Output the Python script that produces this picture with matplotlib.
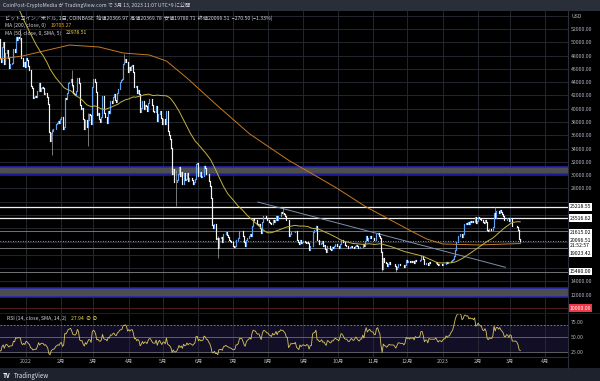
import numpy as np
import pandas as pd
import matplotlib
matplotlib.use("Agg")
from matplotlib import pyplot as plt
import matplotlib.dates as mdates
from matplotlib import transforms
from matplotlib.patches import Rectangle

plt.rcParams['font.family'] = ['Noto Sans CJK JP', 'DejaVu Sans']

# --- Daily closes (thousand USD), from 2021-10-20 ---
start_date = '2021-10-20'
closes_k = [
    # Oct 2021 (20-31)
    65.9, 62.2, 60.7, 61.3, 60.9, 63.0, 60.4, 58.5, 60.6, 62.2, 61.9, 61.3,
    # Nov 2021
    61.0, 63.2, 62.9, 61.4, 61.0, 61.5, 63.3, 67.6, 66.9, 64.9, 64.9, 64.2, 64.5, 65.5, 63.6,
    60.1, 60.4, 56.9, 58.1, 59.7, 58.7, 56.3, 57.6, 57.2, 58.9, 53.6, 54.8, 57.3, 57.8, 57.0,
    # Dec 2021
    57.2, 56.5, 53.6, 49.4, 49.4, 50.6, 50.6, 50.5, 47.6, 47.1, 49.3, 50.1, 46.7, 48.4, 48.9, 47.6,
    46.2, 46.8, 46.7, 46.9, 49.0, 48.6, 50.8, 50.4, 50.8, 50.6, 50.6, 47.6, 46.5, 47.1, 46.3,
    # Jan 2022
    47.7, 47.3, 46.4, 45.8, 43.4, 43.1, 41.6, 41.8, 41.9, 41.8, 42.7, 43.9, 42.6, 43.1, 43.2, 43.1,
    42.2, 42.4, 41.7, 40.7, 36.5, 35.1, 36.3, 36.7, 36.9, 37.0, 37.7, 37.9, 38.2, 37.9, 38.5,
    # Feb 2022
    38.7, 36.9, 37.3, 41.6, 41.4, 42.4, 43.8, 44.0, 44.4, 43.6, 42.4, 42.2, 42.1, 42.6, 44.6, 43.9,
    40.5, 40.0, 40.1, 38.4, 37.0, 38.3, 37.3, 38.3, 39.2, 39.1, 37.7, 43.2,
    # Mar 2022
    44.4, 44.0, 42.5, 39.1, 39.4, 38.4, 38.0, 38.7, 41.9, 39.4, 38.8, 38.8, 37.8, 39.7, 39.3, 41.1,
    40.9, 41.8, 42.2, 41.3, 41.0, 42.4, 42.9, 44.0, 44.3, 44.5, 46.8, 47.1, 47.5, 47.1, 45.5,
    # Apr 2022
    46.3, 45.8, 46.4, 46.6, 45.5, 43.2, 43.4, 42.3, 42.8, 42.2, 39.5, 40.1, 41.1, 39.9, 40.5, 40.4,
    39.7, 40.8, 41.5, 41.4, 40.5, 39.7, 39.5, 39.5, 40.4, 38.1, 39.2, 39.7, 38.6, 37.7,
    # May 2022
    38.5, 38.5, 37.7, 39.7, 36.6, 36.0, 35.5, 34.1, 30.1, 31.0, 29.0, 29.0, 29.3, 30.1, 31.3, 29.9,
    30.4, 28.7, 30.3, 29.2, 29.4, 30.3, 29.1, 29.6, 29.5, 29.2, 28.6, 29.0, 29.4, 31.7, 31.8,
    # Jun 2022
    29.8, 30.4, 29.7, 29.9, 29.9, 31.4, 31.1, 30.2, 30.1, 29.1, 28.4, 26.6, 22.5, 22.1, 22.6, 20.4,
    20.5, 19.0, 20.6, 20.6, 20.7, 20.0, 21.1, 21.2, 21.5, 21.0, 20.7, 20.3, 20.1, 19.9,
    # Jul 2022
    19.3, 19.2, 19.3, 20.2, 20.2, 20.5, 21.6, 21.6, 21.6, 20.9, 19.9, 19.3, 20.2, 20.6, 20.8, 21.2,
    20.8, 22.4, 23.4, 23.2, 23.2, 22.7, 22.5, 22.6, 22.0, 21.3, 22.9, 23.8, 23.8, 23.6, 23.3,
    # Aug 2022
    23.3, 22.9, 22.8, 22.6, 23.3, 23.0, 23.2, 23.8, 23.2, 23.9, 23.9, 24.4, 24.3, 24.3, 24.1, 23.9,
    23.3, 23.2, 20.8, 21.1, 21.5, 21.4, 21.5, 21.4, 21.6, 20.3, 20.0, 19.6, 20.3, 19.8, 20.0,
    # Sep 2022
    20.1, 19.9, 19.8, 20.0, 19.8, 18.8, 19.3, 19.3, 21.4, 21.7, 21.8, 22.4, 20.2, 20.2, 19.7, 19.8,
    20.1, 19.4, 19.5, 18.9, 18.5, 19.4, 19.3, 18.9, 18.8, 19.2, 19.1, 19.4, 19.6, 19.4,
    # Oct 2022
    19.3, 19.1, 19.6, 20.3, 20.2, 19.9, 19.5, 19.4, 19.4, 19.1, 19.0, 19.2, 19.4, 19.2, 19.1, 19.3,
    19.5, 19.3, 19.1, 19.0, 19.2, 19.2, 19.6, 19.3, 20.1, 20.8, 20.3, 20.6, 20.8, 20.6, 20.5,
    # Nov 2022
    20.5, 20.2, 20.2, 21.1, 21.3, 20.9, 20.6, 18.5, 15.9, 17.6, 17.0, 16.8, 16.3, 16.6, 16.9, 16.7,
    16.7, 16.7, 16.7, 16.3, 15.8, 16.2, 16.6, 16.6, 16.5, 16.5, 16.5, 16.2, 16.4, 17.2,
    # Dec 2022
    17.0, 17.1, 16.9, 17.1, 17.0, 17.1, 16.8, 17.2, 17.1, 17.1, 17.1, 17.2, 17.8, 17.8, 17.4, 16.6,
    16.8, 16.8, 16.4, 16.9, 16.8, 16.8, 16.8, 16.8, 16.8, 16.9, 16.7, 16.5, 16.6, 16.6, 16.5,
    # Jan 2023
    16.6, 16.7, 16.7, 16.9, 16.8, 16.9, 16.9, 17.1, 17.2, 17.4, 17.9, 18.8, 19.9, 20.9, 20.9, 21.2,
    21.1, 20.7, 21.1, 22.7, 22.8, 22.7, 22.9, 22.6, 23.1, 23.0, 23.1, 23.0, 23.7, 22.8, 23.1,
    # Feb 2023
    23.7, 23.5, 23.4, 23.3, 22.9, 22.8, 23.2, 22.9, 21.8, 21.6, 21.9, 21.8, 21.8, 22.2, 24.3, 23.5,
    24.6, 24.6, 24.3, 24.8, 24.4, 24.2, 23.9, 23.2, 23.2, 23.6, 23.5, 23.1,
    # Mar 2023 (1-10)
    23.6, 23.5, 22.4, 22.4, 22.4, 22.4, 22.2, 21.7, 20.36697, 20.09651,
]

# notable wicks (thousand USD)
wick_dates = ['2021-12-27', '2022-01-24', '2022-02-10', '2022-02-24', '2022-03-28', '2022-05-12',
              '2022-06-18', '2022-08-14', '2022-11-09', '2022-11-21', '2023-02-16', '2023-03-10']
wick_low = [50.3, 33.0, 43.2, 34.4, 46.9, 25.4, 17.6, 24.2, 15.5, 15.48, 23.5, 19.78]
wick_high = [52.0, 37.0, 45.8, 39.4, 48.2, 30.8, 20.8, 25.2, 18.6, 16.3, 25.2, 20.37]

# MA200
ma200_dates = ['2021-12-09', '2021-12-29', '2022-02-08', '2022-03-06', '2022-03-27', '2022-04-19',
               '2022-05-04', '2022-05-22', '2022-06-17', '2022-07-16', '2022-08-20', '2022-09-06',
               '2022-09-30', '2022-10-26', '2022-11-18', '2022-12-06', '2022-12-18', '2023-01-01',
               '2023-02-02', '2023-03-10']
ma200_vals = [47480, 47940, 49590, 49290, 48390, 48090, 47180, 44620, 40560, 36190, 32130, 30470,
              28070, 25210, 23100, 21440, 20390, 19640, 19490, 19705.27]

# drawn levels
white_levels = [25218.55, 23516.62]
gray_levels = [21615.02, 19023.42, 15480.00]
band_top = [31300, 12940]
band_bot = [30170, 11730]
red_level = 10000.00
trend_dates = ['2022-07-23', '2023-02-25']
trend_vals = [25960, 16130]

month_ticks = ['2022-01-01', '2022-02-01', '2022-03-01', '2022-04-01', '2022-05-01', '2022-06-01',
               '2022-07-01', '2022-08-01', '2022-09-01', '2022-10-01', '2022-11-01', '2022-12-01',
               '2023-01-01', '2023-02-01', '2023-03-01', '2023-04-01']
month_labels = ['2022', '2月', '3月', '4月', '5月', '6月', '7月', '8月', '9月', '10月', '11月', '12月',
                '2023', '2月', '3月', '4月']

# --- series ---
close = np.array(closes_k) * 1000
dates = pd.date_range(start_date, periods=len(close), freq='D')
opens = np.r_[close[0], close[:-1]]
xd = mdates.date2num(dates)
ma50 = pd.Series(close).rolling(50).mean().values
delta = pd.Series(close).diff()
ag = delta.clip(lower=0).ewm(alpha=1 / 14, adjust=False).mean()
al = (-delta.clip(upper=0)).ewm(alpha=1 / 14, adjust=False).mean()
rsi = (100 - 100 / (1 + ag / al)).values

# --- figure ---
W, H = 600, 381
BG = '#000000'
GRID = '#2a2d36'
TXT = '#b2b5be'
FS = 3.7


def rect(x0, y0, x1, y1):
    return [x0 / W, 1 - y1 / H, (x1 - x0) / W, (y1 - y0) / H]


fig = plt.figure(figsize=(6, 3.81), dpi=100, facecolor=BG)
ax = fig.add_axes(rect(0, 11, 568, 313), facecolor=BG)
ax_rsi = fig.add_axes(rect(0, 313, 568, 357), facecolor=BG, sharex=ax)

xmin = mdates.date2num(pd.Timestamp('2021-12-09 05:00'))
xmax = mdates.date2num(pd.Timestamp('2023-04-20 19:00'))
ax.set_xlim(xmin, xmax)
ax.set_ylim(9249, 54710)
ax_rsi.set_ylim(16.7, 90)

mt = mdates.date2num(pd.to_datetime(month_ticks))
for a in (ax, ax_rsi):
    for s in a.spines.values():
        s.set_visible(False)
    a.set_xticks(mt)
    a.grid(True, axis='x', color=GRID, lw=0.6)
ax.tick_params(axis='x', length=0, labelbottom=False)
ax_rsi.set_xticklabels(month_labels)
ax_rsi.tick_params(axis='x', length=0, labelsize=3.8, colors=TXT, pad=1.6)

# price scale
ylev = np.arange(10000, 54001, 2000)
shown = {52000, 50000, 48000, 46000, 44000, 42000, 40000, 38000, 36000, 34000, 32000, 30000, 28000,
         14000, 12000}
ax.set_yticks(ylev)
ax.set_yticklabels([f'{v:.2f}' if v in shown else '' for v in ylev])
ax.yaxis.tick_right()
ax.tick_params(axis='y', length=0, labelsize=FS, colors=TXT, pad=2.2)
ax.grid(True, axis='y', color=GRID, lw=0.6)
ax.set_axisbelow(True)

ax_rsi.set_yticks([25, 50, 75])
ax_rsi.set_yticklabels(['25.00', '50.00', '75.00'])
ax_rsi.yaxis.tick_right()
ax_rsi.tick_params(axis='y', length=0, labelsize=FS, colors=TXT, pad=2.2)

# --- levels ---
for t, b in zip(band_top, band_bot):
    ax.axhspan(b, t, color='#4e4e4e', lw=0, zorder=1)
    ax.axhline(t, color='#2222c0', lw=1.1, zorder=1.5)
    ax.axhline(b, color='#2222c0', lw=1.1, zorder=1.5)
for v in white_levels:
    ax.axhline(v, color='#f0f0f0', lw=0.9, zorder=1.5)
for v in gray_levels:
    ax.axhline(v, color='#747474', lw=0.7, zorder=1.5)
ax.axhline(red_level, color='#4a1a1e', lw=0.8, zorder=1.5)
ax.axhline(close[-1], color='#d0d0d0', lw=0.6, ls=(0, (1, 2)), zorder=1.5)
ax.plot(pd.to_datetime(trend_dates), trend_vals, color='#7d8fb0', lw=0.7, zorder=2)

# --- candles ---
up = close >= opens
wx = mdates.date2num(pd.to_datetime(wick_dates))
ax.vlines(wx, np.array(wick_low) * 1000, np.array(wick_high) * 1000, colors='#a8a8a8', lw=0.5, zorder=2.5)
for m, c in ((up, '#5f9ff0'), (~up, '#f4f4f4')):
    lc = ax.vlines(xd[m], opens[m], close[m], colors=c, lw=0.85, zorder=3)
    lc.set_capstyle('projecting')

ax.plot(pd.to_datetime(ma200_dates), ma200_vals, color='#c77a22', lw=0.7, zorder=4)
ax.plot(dates, ma50, color='#c4b245', lw=0.7, zorder=4)

# --- RSI ---
ax_rsi.axhspan(25, 70, color='#120e26', lw=0, zorder=0)
ax_rsi.axhline(70, color='#8a8d96', lw=0.6, ls=(0, (2, 2)))
ax_rsi.axhline(50, color='#6a6d76', lw=0.6)
ax_rsi.axhline(25, color='#6a6d76', lw=0.6)
ax_rsi.plot(dates, rsi, color='#d9c65c', lw=0.6, zorder=3)

# --- separators ---
fig.add_artist(plt.Line2D([568 / W] * 2, [1 - 368 / H, 1 - 11 / H], color='#2a2e39', lw=0.8))
fig.add_artist(plt.Line2D([0, 568 / W], [1 - 357 / H] * 2, color='#2a2e39', lw=0.8))
fig.add_artist(plt.Line2D([0, 1], [1 - 313 / H] * 2, color='#1b1d24', lw=0.8))


# --- price scale labels ---
def price_label(v, text, fc='white', tc='black', dy=0):
    tr = transforms.offset_copy(ax.get_yaxis_transform(), fig=fig, x=1.5, y=-dy, units='dots')
    ax.text(1.0, v, text, transform=tr, fontsize=FS, color=tc, va='center', ha='left',
            bbox=dict(boxstyle='square,pad=0.25', fc=fc, ec='none'), clip_on=False, zorder=10)


price_label(white_levels[0], f'{white_levels[0]:.2f}')
price_label(white_levels[1], f'{white_levels[1]:.2f}')
price_label(gray_levels[0], f'{gray_levels[0]:.2f}', dy=2)
price_label(close[-1], f'{close[-1]:.2f}\n21:52:57', dy=2)
price_label(gray_levels[1], f'{gray_levels[1]:.2f}', dy=5)
price_label(gray_levels[2], f'{gray_levels[2]:.2f}')
price_label(red_level, f'{red_level:.2f}', fc='#f23645', tc='white')
fig.text(572 / W, 1 - 17 / H, 'USD', fontsize=FS, color=TXT, va='center')

# --- legend texts ---
fig.text(5 / W, 1 - 18 / H,
         'ビットコイン／米ドル, 1日, COINBASE  始値20366.97  高値20369.78  安値19780.71  終値20096.51  −270.50 (−1.33%)',
         fontsize=FS, color='#d1d4dc', va='center')
t2 = fig.text(5 / W, 1 - 25.5 / H, 'MA (200, close, 0)', fontsize=FS, color='#d1d4dc', va='center')
t3 = fig.text(5 / W, 1 - 33 / H, 'MA (50, close, 0, SMA, 5)', fontsize=FS, color='#d1d4dc', va='center')
t4 = fig.text(7 / W, 1 - 318 / H, 'RSI (14, close, SMA, 14, 2)', fontsize=FS, color='#d1d4dc', va='center')
for t, val, col in ((t2, '19705.27', '#f0a030'), (t3, '22978.51', '#e8d84a'), (t4, '27.94  ⊘ ⊘', '#e8d84a')):
    fig.add_artist(plt.Annotation(val, xy=(1, 0.5), xycoords=t, xytext=(3, 0), textcoords='offset points',
                                  fontsize=FS, color=col, va='center', annotation_clip=False))

# --- header / footer ---
fig.add_artist(Rectangle((0, 1 - 11 / H), 1, 11 / H, transform=fig.transFigure, color='#2a2e39', lw=0))
fig.text(3 / W, 1 - 5.5 / H, 'CoinPost-CryptoMedia が TradingView.com で 3月 13, 2023 11:07 UTC+9 に公開',
         fontsize=FS, color='#d1d4dc', va='center')
fig.add_artist(Rectangle((0, 0), 1, 13 / H, transform=fig.transFigure, color='#1e222d', lw=0))
fig.text(3 / W, 1 - 375.5 / H, 'TV', fontsize=4.4, color='white', weight='bold', va='center')
fig.text(14 / W, 1 - 375.5 / H, 'TradingView', fontsize=4.4, color='#e0e3eb', va='center')

fig.savefig('out.png', dpi=100, facecolor=BG)
